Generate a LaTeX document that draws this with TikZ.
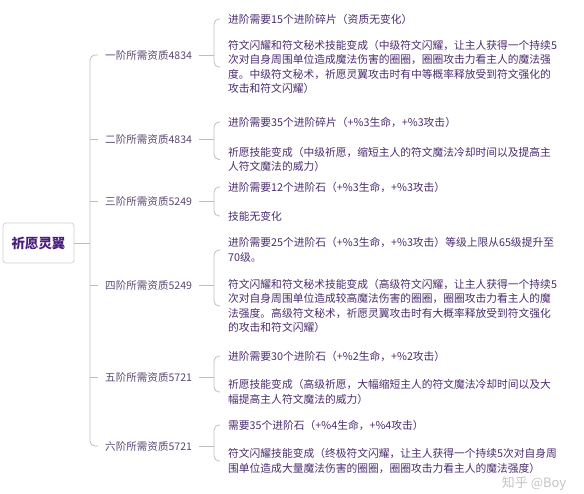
\documentclass[tikz,border=0pt]{standalone}
\usepackage{fontspec}
\setmainfont{Noto Sans CJK SC}
\usetikzlibrary{calc,positioning}
\definecolor{wingPurple}{HTML}{4A1D7C}
\definecolor{stageInk}{HTML}{5A4872}
\definecolor{noteInk}{HTML}{4B2C6E}
\definecolor{branchGray}{HTML}{BDBDBD}
\definecolor{rootEdge}{HTML}{CFCFCF}
\definecolor{markGray}{HTML}{C4C4C4}
\tikzset{
  root card/.style={
    draw=rootEdge,
    fill=white,
    rounded corners=3bp,
    line width=0.7bp,
    minimum width=71bp,
    minimum height=40bp,
    font=\fontsize{13.5}{16}\selectfont\bfseries,
    text=wingPurple
  },
  stage label/.style={
    anchor=west,
    font=\fontsize{10.6}{13}\selectfont,
    text=stageInk,
    inner xsep=7bp,
    inner ysep=2bp
  },
  note text/.style={
    anchor=west,
    font=\fontsize{10.8}{14.5}\selectfont,
    text=noteInk,
    align=left,
    inner xsep=8bp,
    inner ysep=1bp
  },
  branch edge/.style={
    draw=branchGray,
    line width=0.8bp,
    rounded corners=5bp
  }
}

\begin{document}
\begin{tikzpicture}[x=1bp,y=-1bp]
  \useasboundingbox (0,0) rectangle (584,494);

  \node[root card] (wing) at (38.5,243) {祈愿灵翼};
  \coordinate (hub) at (90,243);

  % stages
  \node[stage label] (stage1) at (98,55) {一阶所需资质4834};
  \node[stage label] (stage2) at (98,139) {二阶所需资质4834};
  \node[stage label] (stage3) at (98,201) {三阶所需资质5249};
  \node[stage label] (stage4) at (98,285) {四阶所需资质5249};
  \node[stage label] (stage5) at (98,377) {五阶所需资质5721};
  \node[stage label] (stage6) at (98,446) {六阶所需资质5721};

  \coordinate (fork1) at (214,55);
  \coordinate (fork2) at (214,139);
  \coordinate (fork3) at (214,201);
  \coordinate (fork4) at (214,285);
  \coordinate (fork5) at (214,377);
  \coordinate (fork6) at (214,446);

  % notes
  \node[note text] (note1a) at (220,19) {进阶需要15个进阶碎片（资质无变化）};
  \node[note text] (note1b) at (220,67) {
    符文闪耀和符文秘术技能变成（中级符文闪耀，让主人获得一个持续5\\
    次对自身周围单位造成魔法伤害的圈圈，圈圈攻击力看主人的魔法强\\
    度。中级符文秘术，祈愿灵翼攻击时有中等概率释放受到符文强化的\\
    攻击和符文闪耀）
  };
  \node[note text] (note2a) at (220,122) {进阶需要35个进阶碎片（+\%3生命，+\%3攻击）};
  \node[note text] (note2b) at (220,159.5) {
    祈愿技能变成（中级祈愿，缩短主人的符文魔法冷却时间以及提高主\\
    人符文魔法的威力）
  };
  \node[note text] (note3a) at (220,187) {进阶需要12个进阶石（+\%3生命，+\%3攻击）};
  \node[note text] (note3b) at (220,216) {技能无变化};
  \node[note text] (note4a) at (220,250) {
    进阶需要25个进阶石（+\%3生命，+\%3攻击）等级上限从65级提升至\\
    70级。
  };
  \node[note text] (note4b) at (220,306) {
    符文闪耀和符文秘术技能变成（高级符文闪耀，让主人获得一个持续5\\
    次对自身周围单位造成较高魔法伤害的圈圈，圈圈攻击力看主人的魔\\
    法强度。高级符文秘术，祈愿灵翼攻击时有大概率释放受到符文强化\\
    的攻击和符文闪耀）
  };
  \node[note text] (note5a) at (220,356) {进阶需要30个进阶石（+\%2生命，+\%2攻击）};
  \node[note text] (note5b) at (220,392) {
    祈愿技能变成（高级祈愿，大幅缩短主人的符文魔法冷却时间以及大\\
    幅提高主人符文魔法的威力）
  };
  \node[note text] (note6a) at (220,425) {需要35个进阶石（+\%4生命，+\%4攻击）};
  \node[note text] (note6b) at (220,461) {
    符文闪耀技能变成（终极符文闪耀，让主人获得一个持续5次对自身周\\
    围单位造成大量魔法伤害的圈圈，圈圈攻击力看主人的魔法强度）
  };

  % spine
  \draw[branch edge] (wing) -- (hub);
  \draw[branch edge] (stage1.west) -| (hub) |- (stage6.west);
  \draw[branch edge] (stage2.west) -- (stage2.west -| hub);
  \draw[branch edge] (stage3.west) -- (stage3.west -| hub);
  \draw[branch edge] (stage4.west) -- (stage4.west -| hub);
  \draw[branch edge] (stage5.west) -- (stage5.west -| hub);

  % braces
  \draw[branch edge] (stage1.east) -- (fork1);
  \draw[branch edge] (note1a.west) -| (fork1) |- (note1b.west);
  \draw[branch edge] (stage2.east) -- (fork2);
  \draw[branch edge] (note2a.west) -| (fork2) |- (note2b.west);
  \draw[branch edge] (stage3.east) -- (fork3);
  \draw[branch edge] (note3a.west) -| (fork3) |- (note3b.west);
  \draw[branch edge] (stage4.east) -- (fork4);
  \draw[branch edge] (note4a.west) -| (fork4) |- (note4b.west);
  \draw[branch edge] (stage5.east) -- (fork5);
  \draw[branch edge] (note5a.west) -| (fork5) |- (note5b.west);
  \draw[branch edge] (stage6.east) -- (fork6);
  \draw[branch edge] (note6a.west) -| (fork6) |- (note6b.west);

  \node[font=\fontsize{13}{15}\selectfont,text=markGray,inner sep=0pt] (mark) at (534,484) {知乎 @Boy};
\end{tikzpicture}
\end{document}
